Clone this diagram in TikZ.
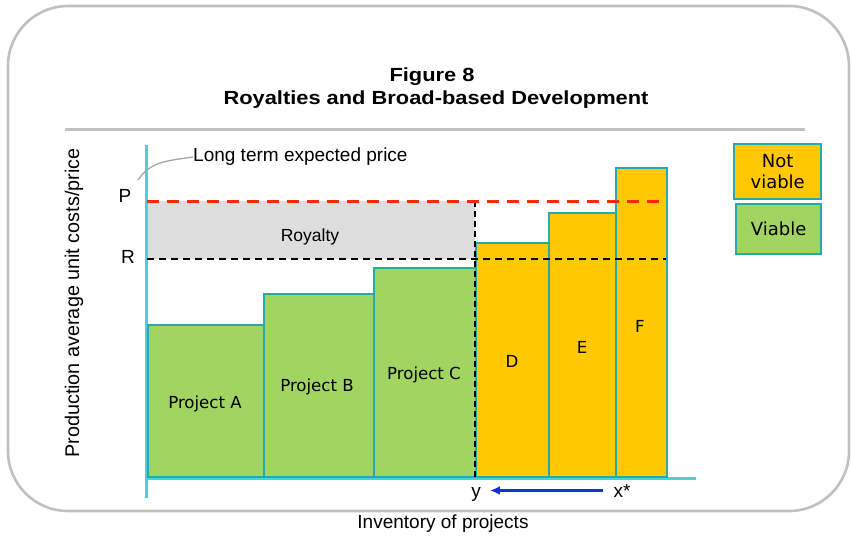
\documentclass[tikz,border=0pt]{standalone}
\usepackage{fontspec}
\setmainfont{Liberation Sans}
\newfontfamily\vfont{DejaVu Sans}
\usetikzlibrary{arrows.meta}
\definecolor{frameg}{RGB}{192,192,192}
\definecolor{axisc}{RGB}{64,214,214}
\definecolor{edgec}{RGB}{40,168,168}
\definecolor{greenc}{RGB}{162,212,98}
\definecolor{yellc}{RGB}{255,200,0}
\definecolor{royc}{RGB}{221,221,221}
\definecolor{redc}{RGB}{255,40,0}
\definecolor{bluec}{RGB}{20,50,210}
\tikzset{
  barbox/.style={draw=edgec, line width=1.8pt, inner sep=0pt, anchor=south west},
  viable/.style={barbox, fill=greenc},
  notviable/.style={barbox, fill=yellc},
  barlabel/.style={font=\vfont\fontsize{16.6}{19}\selectfont, inner sep=0pt},
  legbox/.style={draw=edgec, line width=2.4pt, inner sep=0pt, anchor=north west, align=center, font=\vfont\fontsize{18}{20.5}\selectfont},
  ltext/.style={font=\fontsize{19}{22}\selectfont, inner sep=0pt},
  ttext/.style={font=\bfseries\fontsize{19}{22}\selectfont, inner sep=0pt},
}
\begin{document}
\begin{tikzpicture}[x=1pt,y=-1pt]
\useasboundingbox (0,0) rectangle (851,536);
% frame
\draw[frameg, line width=2.6pt, rounded corners=60pt] (8,6) rectangle (849,511);
% title
\node[ttext] (t1) at (432,77) {\scalebox{1.15}[1]{Figure 8}};
\node[ttext] (t2) at (436,100) {\scalebox{1.15}[1]{Royalties and Broad-based Development}};
\draw[frameg, line width=3pt] (65,129) -- (805,129);
% royalty area
\node[fill=royc, inner sep=0pt, minimum width=328pt, minimum height=58pt, anchor=north west] (roy) at (147,201) {};
\node[ltext, font=\fontsize{17.5}{20}\selectfont] (roylab) at (310,237) {Royalty};
% axes
\coordinate (ytop) at (146,145);
\coordinate (ybot) at (146,498);
\coordinate (xl) at (146,478);
\coordinate (xr) at (696,478);
\draw[axisc, line width=3pt] (ytop) -- (ybot);
\draw[axisc, line width=3pt] (xl) -- (xr);
% bars
\node[viable, minimum width=116pt, minimum height=152pt] (A) at (147,478) {};
\node[viable, minimum width=110pt, minimum height=183pt] (B) at (263,478) {};
\node[viable, minimum width=102pt, minimum height=209pt] (C) at (373,478) {};
\node[notviable, minimum width=73pt, minimum height=234pt] (D) at (475,478) {};
\node[notviable, minimum width=67pt, minimum height=264pt] (E) at (548,478) {};
\node[notviable, minimum width=51pt, minimum height=309pt] (F) at (615,478) {};
\node[barlabel] (la) at (205,404) {Project A};
\node[barlabel] (lb) at (317,387) {Project B};
\node[barlabel] (lc) at (424,375) {Project C};
\node[barlabel] (ld) at (512,361) {D};
\node[barlabel] (le) at (582,347) {E};
\node[barlabel] (lf) at (640,326) {F};
% dashed lines
\coordinate (p1) at (147,201);
\coordinate (p2) at (666,201);
\coordinate (r1) at (147,259);
\coordinate (r2) at (666,259);
\coordinate (v1) at (475,201);
\coordinate (v2) at (475,478);
\draw[black, line width=2pt, dash pattern=on 6pt off 4pt] (v1) -- (v2);
\draw[black, line width=2pt, dash pattern=on 7pt off 5pt] (r1) -- (r2);
\draw[redc, line width=3pt, dash pattern=on 12pt off 8pt] (p1) -- (p2);
\node[ltext] (P) at (125,196) {P};
\node[ltext] (R) at (128,257) {R};
% long term expected price
\node[ltext, anchor=west] (lt) at (193,157) {Long term expected price};
\coordinate (ltend) at (138,180);
\draw[black!35, line width=1.3pt] (ltend) .. controls (150,162) and (165,161) .. (lt.west);
% legend
\node[legbox, fill=yellc, minimum width=87pt, minimum height=55pt] (nv) at (733,143) {Not\\viable};
\node[legbox, fill=greenc, minimum width=85pt, minimum height=50pt] (vb) at (735,203) {Viable};
% axis labels
\node[ltext, rotate=90, font=\fontsize{19.8}{22}\selectfont] (ylab) at (74,303) {Production average unit costs/price};
\node[ltext, anchor=base] (yy) at (476,497) {y};
\node[ltext, anchor=base] (xs) at (622,497) {x*};
\draw[bluec, line width=2.6pt, -{Latex[length=10pt,width=9pt]}, shorten <=10pt, shorten >=9pt] (xs.west) -- (yy.east |- xs.west);
\node[ltext] (inv) at (443,524) {Inventory of projects};
\end{tikzpicture}
\end{document}
